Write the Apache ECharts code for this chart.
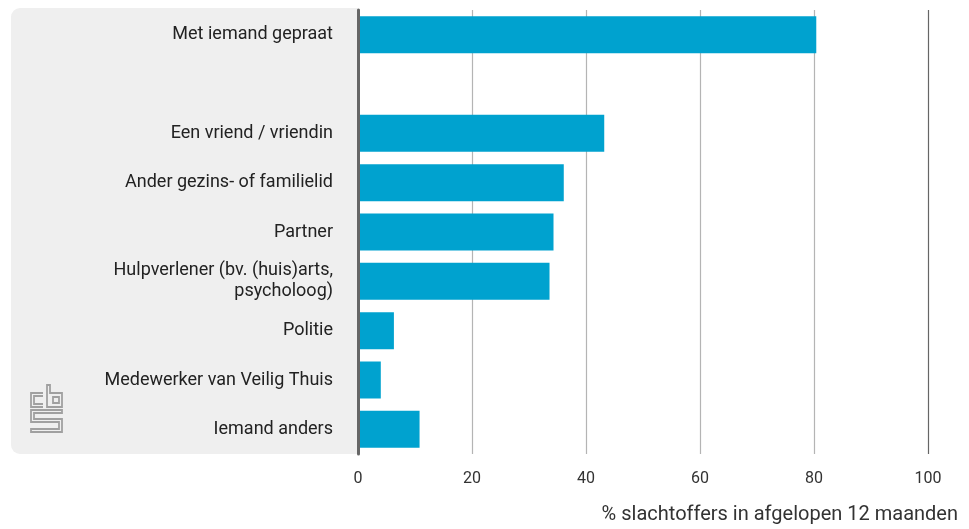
<!DOCTYPE html>
<html>
<head>
<meta charset="utf-8">
<script src="https://cdn.jsdelivr.net/npm/echarts@6/dist/echarts.min.js"></script>
<style>html,body{margin:0;padding:0;background:#fff}#c{width:969px;height:529px}</style>
</head>
<body>
<div id="c"></div>
<script>
var categories = ['Met iemand gepraat', '', 'Een vriend / vriendin', 'Ander gezins- of familielid', 'Partner', 'Hulpverlener (bv. (huis)arts,\npsycholoog)', 'Politie', 'Medewerker van Veilig Thuis', 'Iemand anders'];
var values = [80.4, null, 43.2, 36.1, 34.3, 33.6, 6.3, 4.0, 10.8];
var xTicks = [0, 20, 40, 60, 80, 100];
var axisTitle = '% slachtoffers in afgelopen 12 maanden';

var FONT = 'Roboto';
var chart = echarts.init(document.getElementById('c'), null, {renderer: 'canvas'});
var logoStroke = {stroke: '#a0a0a0', lineWidth: 1.8, fill: null};
chart.setOption({
  animation: false,
  grid: {left: 358, right: 41, top: 10, bottom: 75, containLabel: false},
  graphic: [
    {type: 'rect', z: -10, shape: {x: 11, y: 8, width: 347, height: 446, r: [9, 0, 0, 9]}, style: {fill: '#efefef'}},
    {type: 'group', x: 31, y: 385, z: -5, children: [
      {type: 'polyline', shape: {points: [[12,8],[0,8],[0,22],[12,22]]}, style: logoStroke},
      {type: 'polyline', shape: {points: [[12,11],[3,11],[3,19],[12,19]]}, style: logoStroke},
      {type: 'polygon', shape: {points: [[16,0],[16,22],[31,22],[31,8],[19,8],[19,0]]}, style: logoStroke},
      {type: 'rect', shape: {x: 22, y: 12, width: 6, height: 6}, style: logoStroke},
      {type: 'polygon', shape: {points: [[31,25],[0,25],[0,37],[28,37],[28,44],[0,44],[0,47],[31,47],[31,34],[3,34],[3,28],[31,28]]}, style: logoStroke}
    ]},
    {type: 'text', right: 11, top: 505, style: {text: axisTitle, font: '20px ' + FONT, fill: '#333', textAlign: 'right'}}
  ],
  xAxis: {
    type: 'value', min: 0, max: 100, interval: 20,
    axisLine: {show: false}, axisTick: {show: false},
    axisLabel: {color: '#333', fontFamily: FONT, fontSize: 16, margin: 17,
      formatter: function (v) { return xTicks.indexOf(v) >= 0 ? String(v) : ''; }},
    splitLine: {show: true, lineStyle: {color: ['#b4b4b4', '#b4b4b4', '#b4b4b4', '#b4b4b4', '#b4b4b4', '#666666'], width: 1.2}}
  },
  yAxis: {
    type: 'category', data: categories, inverse: true, z: 10,
    axisLine: {show: true, lineStyle: {color: '#666', width: 3}},
    axisTick: {show: false},
    axisLabel: {color: '#222', fontFamily: FONT, fontSize: 18, margin: 25, lineHeight: 21, align: 'right', padding: [10, 0, 0, 0]},
    splitLine: {show: false}
  },
  series: [{
    type: 'bar', data: values, barWidth: 37,
    itemStyle: {color: '#00a2cf'}
  }]
});
</script>
</body>
</html>
